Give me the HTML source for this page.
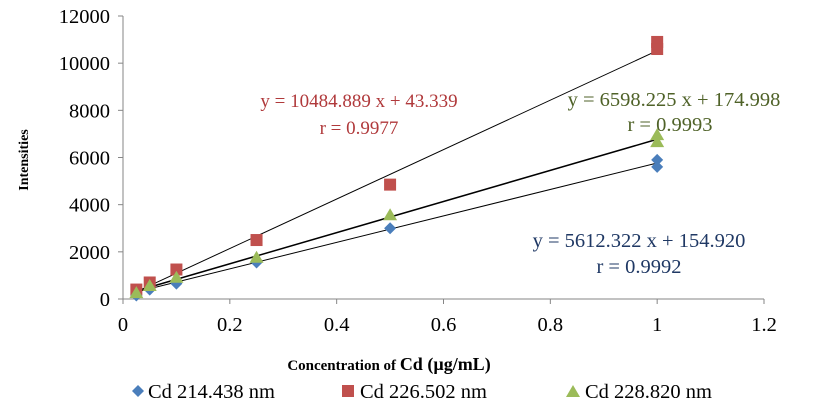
<!DOCTYPE html>
<html><head><meta charset="utf-8"><style>
body{margin:0;background:#fff;}
svg{display:block;font-family:"Liberation Serif",serif;}
text{font-family:"Liberation Serif",serif !important;}
</style></head><body>
<svg id="chart" width="819" height="419" font-family="Liberation Serif, serif">
<g id="axes"></g><g id="lines"></g><g id="marks"></g>
<text x="28" y="160" font-size="14" font-weight="bold" transform="rotate(-90 28 160)" text-anchor="middle">Intensities</text>
<text x="389" y="370" font-size="15" font-weight="bold" text-anchor="middle">Concentration of <tspan font-size="18">Cd (µg/mL)</tspan></text>
<g text-anchor="middle">
<text x="359" y="107" font-size="19" fill="#b0393b">y = 10484.889 x + 43.339</text>
<text x="359" y="134" font-size="19" fill="#b0393b">r = 0.9977</text>
<text x="674" y="106" font-size="20.5" fill="#4f6228">y = 6598.225 x + 174.998</text>
<text x="670" y="131" font-size="20.5" fill="#4f6228">r = 0.9993</text>
<text x="639" y="247" font-size="20.5" fill="#1f3864">y = 5612.322 x + 154.920</text>
<text x="639" y="273" font-size="20.5" fill="#1f3864">r = 0.9992</text>
</g>
<g font-size="20.5">
<g><path d="M138 385 l6 6 -6 6 -6 -6z" fill="#4a7ebb"/><text x="148" y="398">Cd 214.438 nm</text></g>
<g><rect x="342" y="385" width="12" height="12" fill="#c0504d"/><text x="360" y="398">Cd 226.502 nm</text></g>
<g><path d="M573 385 l7 12 -14 0z" fill="#9bbb59"/><text x="585" y="398">Cd 228.820 nm</text></g>
</g>
</svg>
<script>
const xTicks=[0,0.2,0.4,0.6,0.8,1,1.2];
const xTickLabels=["0","0.2","0.4","0.6","0.8","1","1.2"];
const yTicks=[0,2000,4000,6000,8000,10000,12000];
const conc=[0.025,0.05,0.1,0.25,0.5,1,1];
const blueVals=[150,400,650,1550,3000,5900,5600];
const redVals=[400,700,1250,2500,4850,10900,10600];
const greenVals=[250,550,900,1750,3550,6950,6650];
const slopes=[5612.322,10484.889,6598.225];
const intercepts=[154.920,43.339,174.998];
const X0=123,X1=764,Y0=299,Y1=16;
const sx=v=>X0+(v/1.2)*(X1-X0);
const sy=v=>Y0-(v/12000)*(Y0-Y1);
const NS="http://www.w3.org/2000/svg";
function mk(tag,attrs,parent){const e=document.createElementNS(NS,tag);for(const k in attrs)e.setAttribute(k,attrs[k]);parent.appendChild(e);return e;}
const axes=document.getElementById('axes');
let a=mk('line',{x1:X0,y1:Y1,x2:X0,y2:Y0,stroke:'#868686'},axes);


a=mk('line',{x1:X0,y1:Y0,x2:X1,y2:Y0,stroke:'#868686'},axes);


yTicks.forEach(v=>{
 mk('line',{x1:X0-5,y1:sy(v),x2:X0,y2:sy(v),stroke:'#868686'},axes);
 const t=mk('text',{x:X0-13,y:sy(v)+7,'font-size':20.5,'text-anchor':'end'},axes);t.textContent=v;
 
 
});
xTicks.forEach((v,i)=>{
 mk('line',{x1:sx(v),y1:Y0,x2:sx(v),y2:Y0+5,stroke:'#868686'},axes);
 const t=mk('text',{x:sx(v),y:Y0+32,'font-size':20.5,'text-anchor':'middle'},axes);t.textContent=xTickLabels[i];
 
 
});
const lines=document.getElementById('lines');
const lname=['blue-trendline','red-trendline','green-trendline'];
slopes.forEach((m,i)=>{
 const xa=conc[0],xb=1;
 const l=mk('line',{x1:sx(xa),y1:sy(m*xa+intercepts[i]),x2:sx(xb),y2:sy(m*xb+intercepts[i]),stroke:'#000','stroke-width':i==2?1.5:1},lines);
 
 
});
const marks=document.getElementById('marks');
conc.forEach((c,i)=>{
 const x=sx(c);
 let y=sy(redVals[i]);
 let r=mk('rect',{x:x-6,y:y-6,width:12,height:12,fill:'#c0504d'},marks);
 
 
});
conc.forEach((c,i)=>{
 const x=sx(c),y=sy(blueVals[i]);
 const p=mk('path',{d:`M${x} ${y-6} l6 6 -6 6 -6 -6z`,fill:'#4a7ebb'},marks);
 
 
});
conc.forEach((c,i)=>{
 const x=sx(c),y=sy(greenVals[i]);
 const p=mk('path',{d:`M${x} ${y-7} l7 12 -14 0z`,fill:'#9bbb59'},marks);
 
 
});
</script>
</body></html>
